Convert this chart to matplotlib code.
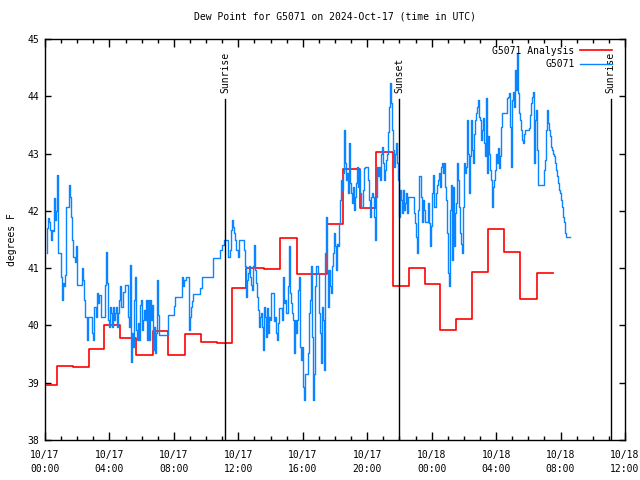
import matplotlib
matplotlib.use("Agg")
import matplotlib.pyplot as plt
from matplotlib.ticker import MultipleLocator

# ---------------- data (hours since 2024-10-17 00:00 UTC, degrees F) -------------
analysis_hours = [0.1, 0.74, 1.74, 2.73, 3.68, 4.66, 5.65, 6.68, 7.63, 8.67, 9.68,
                  10.68, 11.59, 12.5, 13.6, 14.59, 15.62, 17.52, 18.52, 19.55, 20.55,
                  21.58, 22.6, 23.59, 24.52, 25.51, 26.49, 27.52, 28.51, 29.48, 30.52,
                  31.51]
analysis_values = [38.96, 39.30, 39.27, 39.58, 40.0, 39.78, 39.48, 39.90, 39.48, 39.85,
                   39.71, 39.69, 40.65, 41.0, 40.98, 41.53, 40.89, 41.77, 42.73, 42.05,
                   43.02, 40.69, 41.0, 40.72, 39.92, 40.11, 40.93, 41.68, 41.28, 40.47,
                   40.91, 40.91]

obs_hours = [
    0.104, 0.145, 0.186, 0.248, 0.31, 0.393, 0.455, 0.517, 0.579, 0.641, 0.703, 0.766,
    0.828, 0.972, 1.035, 1.097, 1.159, 1.221, 1.283, 1.49, 1.552, 1.635, 1.676, 1.759,
    1.842, 1.904, 1.966, 2.007, 2.318, 2.38, 2.442, 2.504, 2.587, 2.649, 2.939, 3.0,
    3.042, 3.146, 3.207, 3.29, 3.352, 3.456, 3.725, 3.787, 3.849, 3.911, 3.973, 4.035,
    4.097, 4.159, 4.221, 4.283, 4.345, 4.407, 4.49, 4.531, 4.593, 4.655, 4.717,
    4.842, 4.987, 5.153, 5.236, 5.298, 5.36, 5.422, 5.484, 5.546, 5.608, 5.67, 5.732,
    5.794, 5.856, 5.918, 5.98, 6.043, 6.105, 6.167, 6.229, 6.291, 6.353, 6.415, 6.477,
    6.539, 6.601, 6.663, 6.725, 6.787, 6.849, 6.911, 6.973, 7.035, 7.097, 7.636, 8.008,
    8.091, 8.505, 8.567, 8.629, 8.753, 8.939, 9.001, 9.063, 9.125, 9.187,
    9.6, 9.766, 10.428, 10.842, 11.008, 11.09, 11.359, 11.463, 11.546, 11.587, 11.67,
    11.732, 11.794, 11.856, 11.98, 12.042, 12.332, 12.394, 12.456, 12.518, 12.58,
    12.642, 12.704, 12.766, 12.828, 12.911, 12.973, 13.035, 13.097, 13.159, 13.221,
    13.283, 13.345, 13.407, 13.469, 13.531, 13.593, 13.655, 13.717, 13.779, 13.841,
    13.903, 13.966, 14.049, 14.235, 14.297, 14.359, 14.421, 14.483, 14.545, 14.731,
    14.793, 14.855, 14.917, 14.979, 15.103, 15.165, 15.227, 15.289, 15.351, 15.413,
    15.475, 15.537, 15.599, 15.661, 15.723, 15.785, 15.847, 15.909, 15.971, 16.034,
    16.096, 16.158, 16.344, 16.406, 16.468, 16.53, 16.592, 16.654, 16.716, 16.778,
    16.84, 16.964, 17.026, 17.088, 17.15, 17.212, 17.274, 17.336, 17.398, 17.46,
    17.522, 17.584, 17.646, 17.708, 17.77, 17.832, 17.894, 17.956, 18.018, 18.08,
    18.142, 18.204, 18.266, 18.328, 18.39, 18.452, 18.514, 18.56, 18.622, 18.684,
    18.746, 18.808, 18.87, 18.932, 18.994, 19.056, 19.118, 19.18, 19.242, 19.304,
    19.366, 19.428, 19.49, 19.552, 19.614, 19.739, 19.801, 19.863, 20.049, 20.111,
    20.173, 20.235, 20.297, 20.359, 20.421, 20.483, 20.545, 20.607, 20.669, 20.731,
    20.793, 20.855, 20.917, 20.979, 21.041, 21.103, 21.165, 21.227, 21.289, 21.351,
    21.413, 21.475, 21.537, 21.599, 21.661, 21.723, 21.785, 21.847, 21.909, 21.971,
    22.033, 22.095, 22.157, 22.219, 22.281, 22.343, 22.405, 22.467, 22.529, 22.902,
    22.964, 23.026, 23.088, 23.15, 23.212, 23.319, 23.381, 23.443, 23.505, 23.567,
    23.753, 23.815, 23.877, 23.939, 24.001, 24.063, 24.125, 24.29, 24.353, 24.415,
    24.477, 24.539, 24.601, 24.663, 24.725, 24.787, 24.849, 24.911, 24.973, 25.035,
    25.097, 25.159, 25.221, 25.283, 25.345, 25.407, 25.469, 25.531, 25.593, 25.655,
    25.717, 25.779, 25.841, 25.903, 25.965, 26.027, 26.089, 26.151, 26.213, 26.275,
    26.337, 26.399, 26.461, 26.523, 26.585, 26.647, 26.709, 26.771, 26.833, 26.895,
    26.958, 27.02, 27.082, 27.144, 27.206, 27.268, 27.33, 27.392, 27.454, 27.516,
    27.578, 27.64, 27.702, 27.764, 27.826, 27.888, 27.95, 27.995, 28.057, 28.119,
    28.181, 28.243, 28.305, 28.367, 28.698, 28.76, 28.822, 28.884, 28.946, 29.008,
    29.07, 29.132, 29.194, 29.256, 29.318, 29.38, 29.442, 29.504, 29.566, 29.628,
    29.69, 29.752, 29.814, 30.062, 30.124, 30.186, 30.248, 30.31, 30.372, 30.434,
    30.496, 30.558, 30.62, 30.951, 31.013, 31.075, 31.137, 31.199, 31.261, 31.323,
    31.385, 31.447, 31.53, 31.592, 31.654, 31.716, 31.778, 31.84, 31.902, 31.964,
    32.026, 32.088, 32.15, 32.212, 32.274, 32.357, 32.564]
obs_values = [
    41.26, 41.70, 41.87, 41.81, 41.67, 41.49, 41.67, 41.64, 42.22, 41.84, 41.99, 42.63,
    41.26, 40.85, 40.44, 40.74, 40.68, 40.88, 42.07, 42.45, 42.25, 41.90, 41.49, 41.20,
    41.11, 41.38, 41.08, 40.71, 41.0, 40.79, 40.44, 40.15, 39.75, 40.15, 39.86, 39.75,
    40.33, 40.15, 40.56, 40.39, 40.53, 40.15, 40.71, 41.29, 40.74, 40.10, 39.98, 40.33,
    40.21, 39.98, 40.33, 40.10, 40.21, 40.33, 39.98, 40.21, 40.44, 40.68, 40.33,
    40.59, 40.71, 40.15, 39.98, 41.06, 39.37, 39.86, 39.63, 40.44, 40.85, 39.92, 39.75,
    40.04, 39.75, 40.36, 40.44, 39.92, 40.10, 40.27, 40.10, 40.44, 39.75, 40.44, 39.75,
    40.44, 40.10, 40.36, 39.57, 39.98, 39.51, 39.86, 40.79, 40.18, 39.83, 40.18, 40.34,
    40.50, 40.85, 40.68, 40.79, 40.85, 39.92, 40.15, 40.33, 40.42, 40.55,
    40.65, 40.85, 41.17, 41.32, 41.41, 41.49, 41.20, 41.32, 41.67, 41.84, 41.72,
    41.61, 41.49, 41.32, 41.20, 41.49, 41.32, 41.03, 40.50, 40.79, 40.91,
    41.03, 40.85, 40.71, 40.62, 41.03, 41.40, 40.97, 40.74, 40.50, 40.27,
    39.98, 40.15, 40.21, 39.98, 39.57, 40.33, 40.15, 39.80, 40.30, 39.86,
    40.15, 40.10, 40.56, 40.07, 40.15, 39.86, 39.75, 40.04, 40.30, 40.10,
    40.85, 40.39, 40.44, 40.21, 40.68, 41.38, 40.56, 40.39, 40.21, 40.10,
    39.51, 40.10, 39.86, 40.10, 40.62, 40.85, 39.63, 39.40, 39.63, 38.93,
    38.70, 39.16, 39.51, 40.21, 40.44, 41.03, 39.80, 38.70, 39.16, 40.68,
    41.03, 40.91, 40.21, 39.86, 39.34, 40.33, 40.10, 39.22, 41.26, 41.90,
    40.97, 40.33, 40.97, 40.68, 40.56, 41.03, 41.26, 41.61, 41.38, 40.97,
    41.43, 41.38, 41.78, 42.19, 42.54, 42.36, 42.66, 43.41, 42.83, 42.54,
    42.66, 42.31, 43.18, 42.48, 42.31, 42.13, 42.42, 42.02, 42.25, 42.48,
    42.77, 42.42, 42.71, 42.31, 42.07, 42.36, 42.74, 42.77, 42.54, 42.19,
    41.90, 42.25, 42.31, 42.25, 41.90, 41.49, 42.25, 42.77, 42.60, 42.77,
    42.54, 43.00, 43.12, 42.83, 42.54, 42.71, 42.89, 43.00, 43.38, 43.82,
    44.23, 43.88, 43.41, 43.06, 42.77, 43.00, 43.18, 42.83, 42.54, 41.90,
    42.36, 42.19, 41.96, 42.36, 42.02, 42.13, 42.31, 41.96, 42.25, 41.96,
    41.78, 41.55, 41.26, 42.02, 42.60, 42.25, 41.81, 42.19, 42.02, 41.81,
    42.13, 41.78, 41.38, 41.73, 42.31, 42.63, 42.07, 42.31, 42.45, 42.54,
    42.66, 42.42, 42.77, 42.83, 42.66, 42.83, 42.42, 42.19, 41.61, 40.91,
    40.68, 42.02, 42.45, 41.14, 42.42, 41.38, 41.96, 42.13, 42.83, 42.54,
    42.07, 41.61, 41.43, 41.26, 42.07, 42.83, 42.66, 42.77, 43.59, 43.00,
    42.31, 42.95, 43.59, 43.06, 42.83, 43.35, 43.59, 43.70, 43.82, 43.94,
    43.64, 43.59, 43.24, 43.41, 43.62, 43.18, 42.95, 43.97, 42.66, 43.30,
    43.00, 42.71, 42.54, 42.07, 42.42, 42.54, 42.71, 43.00, 42.83, 43.09,
    42.74, 42.95, 43.47, 43.70, 43.97, 43.99, 44.05, 43.47, 42.77, 43.94,
    44.08, 43.82, 44.46, 44.11, 44.75, 44.05, 43.70, 43.59, 43.41, 43.24,
    43.18, 43.35, 43.41, 43.44, 43.67, 43.88, 43.99, 44.08, 42.83, 43.59,
    43.76, 43.06, 42.45, 42.71, 42.89, 43.41, 43.76, 43.53, 43.41, 43.30,
    43.12, 43.06, 43.00, 42.95, 42.83, 42.71, 42.60, 42.48, 42.37, 42.31,
    42.19, 42.07, 41.90, 41.81, 41.61, 41.55, 41.55]

sun_event_hours = [11.2, 22.0, 35.1]
sun_event_labels = ["Sunrise", "Sunset", "Sunrise"]

tick_hours = [0, 4, 8, 12, 16, 20, 24, 28, 32, 36]
tick_labels = ["10/17\n00:00", "10/17\n04:00", "10/17\n08:00", "10/17\n12:00",
               "10/17\n16:00", "10/17\n20:00", "10/18\n00:00", "10/18\n04:00",
               "10/18\n08:00", "10/18\n12:00"]

title = "Dew Point for G5071 on 2024-Oct-17 (time in UTC)"
ylabel = "degrees F"

# ---------------- plot ----------------
FONT = "DejaVu Sans Mono"
FS = 7
plt.rcParams["font.family"] = FONT
plt.rcParams["font.size"] = FS

fig = plt.figure(figsize=(6.4, 4.8), dpi=100)
ax = fig.add_axes([45/640, 1 - 440/480, 580/640, 401/480])

ax.plot(analysis_hours, analysis_values, drawstyle="steps-post", color="#ff0000",
        lw=1.2, label="G5071 Analysis")
ax.plot(obs_hours, obs_values, drawstyle="steps-post", color="#0a84ff",
        lw=1.0, label="G5071")

for h, lab in zip(sun_event_hours, sun_event_labels):
    ax.plot([h, h], [38, 43.95], color="black", lw=1.0)
    ax.text(h, 44.05, lab, rotation=90, ha="center", va="bottom", fontsize=FS)

ax.set_xlim(0, 36)
ax.set_ylim(38, 45)
ax.set_xticks(tick_hours)
ax.set_xticklabels(tick_labels, linespacing=1.55)
ax.xaxis.set_minor_locator(MultipleLocator(1))
ax.yaxis.set_major_locator(MultipleLocator(1))
ax.tick_params(axis="both", which="major", direction="in", length=6, width=1,
               top=True, right=True, labelsize=FS, pad=7)
ax.tick_params(axis="both", which="minor", direction="in", length=3, width=1,
               top=True, right=True)
ax.tick_params(axis="y", which="major", length=4, pad=4)
for s in ax.spines.values():
    s.set_linewidth(1.0)

ax.set_title(title, fontsize=FS, pad=14)
ax.set_ylabel(ylabel, fontsize=FS, labelpad=8)

leg = ax.legend(loc="upper right", frameon=False, markerfirst=False, fontsize=FS,
                handlelength=3.3, handletextpad=0.6, labelspacing=0.35,
                borderaxespad=0.0, bbox_to_anchor=(0.985, 0.993))

fig.savefig("out.png", dpi=100)
